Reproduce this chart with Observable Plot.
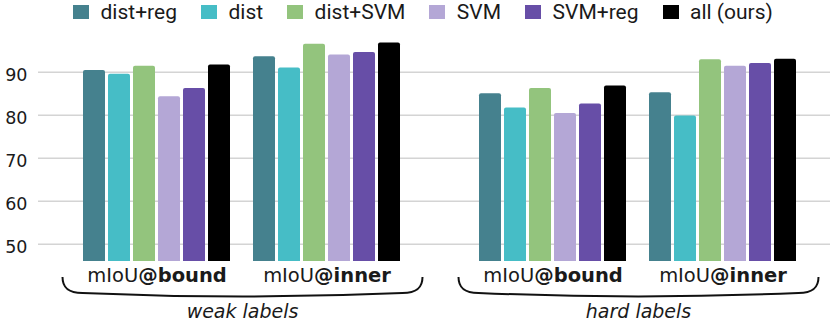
<!DOCTYPE html>
<html>
<head>
<meta charset="utf-8">
<script src="https://cdn.jsdelivr.net/npm/d3@7"></script>
<script src="https://cdn.jsdelivr.net/npm/@observablehq/plot@0.6"></script>
<style>
  html, body { margin: 0; padding: 0; background: #fff; }
  #legend { height: 24px; display: flex; align-items: center; padding-left: 73px;
    font-family: Roboto, sans-serif; font-size: 21px; color: #1a1a1a; white-space: nowrap; }
  #legend .item { display: flex; align-items: center; margin-right: 24px; }
  #legend .sw { width: 16px; height: 14px; margin-right: 11.5px; display: inline-block; }
  #chart svg { display: block; }
</style>
</head>
<body>
<div id="legend"></div>
<div id="chart"></div>
<script>
// ---- data ----
const series = ["dist+reg", "dist", "dist+SVM", "SVM", "SVM+reg", "all (ours)"];
const colors = ["#45818e", "#46bdc6", "#93c47d", "#b4a7d6", "#674ea7", "#000000"];
const labelSets = ["weak labels", "hard labels"];
const metrics = ["mIoU@bound", "mIoU@inner"];
const weakBound = [90.4, 89.5, 91.4, 84.3, 86.2, 91.7];
const weakInner = [93.6, 91.0, 96.5, 94.0, 94.6, 96.8];
const hardBound = [85.0, 81.7, 86.2, 80.4, 82.6, 86.8];
const hardInner = [85.2, 79.8, 92.9, 91.4, 92.0, 93.0];
const yTicks = [50, 60, 70, 80, 90];
const yDomain = [46, 97];

const table = {
  "weak labels": {"mIoU@bound": weakBound, "mIoU@inner": weakInner},
  "hard labels": {"mIoU@bound": hardBound, "mIoU@inner": hardInner}
};
const rows = [];
for (const set of labelSets)
  for (const metric of metrics)
    series.forEach((s, i) => rows.push({set, metric, series: s, value: table[set][metric][i]}));

// ---- legend ----
const legend = document.getElementById("legend");
series.forEach((s, i) => {
  const item = document.createElement("div");
  item.className = "item";
  const sw = document.createElement("span");
  sw.className = "sw";
  sw.style.background = colors[i];
  item.appendChild(sw);
  item.appendChild(document.createTextNode(s));
  legend.appendChild(item);
});

// ---- chart ----
const barStep = 25, barW = 22, n = series.length;
const plot = Plot.plot({
  width: 830,
  height: 300,
  marginTop: 17.6,
  marginBottom: 63.1,
  marginLeft: 38,
  marginRight: 0,
  style: {fontFamily: "'DejaVu Sans', sans-serif", fontSize: "19px", color: "#1a1a1a", background: "white"},
  fx: {domain: labelSets, paddingInner: 0, paddingOuter: 0, label: null},
  x: {domain: metrics, paddingInner: 0.135, paddingOuter: 0.232, align: 0.576, label: null},
  y: {domain: yDomain, label: null},
  marks: [
    Plot.ruleY(yTicks, {stroke: "#d4d4d4", strokeWidth: 1.5}),
    ...series.map((s, i) => Plot.barY(rows.filter(d => d.series === s), {
      fx: "set", x: "metric", y: "value", fill: colors[i],
      insetLeft: i * barStep, insetRight: (n - 1 - i) * barStep,
      rx: 2, clip: true
    })),
    Plot.axisY({ticks: yTicks, tickSize: 0, tickPadding: 11, fontSize: 17.5, dy: 3, label: null}),
    Plot.axisX({tickSize: 0, tickPadding: 7, fontSize: 19.5, label: null}),
    Plot.axisFx({anchor: "bottom", tickSize: 0, tickPadding: 43.5, fontStyle: "italic", fontSize: 19, dx: 6, label: null})
  ]
});
document.getElementById("chart").appendChild(plot);

// bold "@..." part of the metric labels
const NS = "http://www.w3.org/2000/svg";
plot.querySelectorAll('g[aria-label="x-axis tick label"] text').forEach(t => {
  const str = t.textContent;
  const k = str.indexOf("@");
  if (k < 0) return;
  t.textContent = "";
  t.appendChild(document.createTextNode(str.slice(0, k)));
  const ts = document.createElementNS(NS, "tspan");
  ts.setAttribute("font-weight", "bold");
  ts.textContent = str.slice(k);
  t.appendChild(ts);
});
plot.querySelectorAll('g[aria-label="fx-axis tick label"] text').forEach(t => t.setAttribute("font-style", "italic"));

// braces under each label set, positioned from the scales
const fx = plot.scale("fx"), x = plot.scale("x"), y = plot.scale("y");
const fb = y.apply(yDomain[0]);
const bw = x.bandwidth;
const g = document.createElementNS(NS, "g");
for (const set of labelSets) {
  const off = fx.apply(set) - fx.range[0];
  const L = off + x.apply(metrics[0]) - 20.5;
  const R = off + x.apply(metrics[1]) + bw + 22.5;
  const C = (L + R) / 2;
  const top = fb + 16, line = fb + 32;
  const p = document.createElementNS(NS, "path");
  p.setAttribute("d",
    `M${L},${top} C${L},${line - 6} ${L + 5},${line} ${L + 20},${line} ` +
    `Q${C},${line + 7} ${R - 20},${line} ` +
    `C${R - 5},${line} ${R},${line - 6} ${R},${top}`);
  p.setAttribute("fill", "none");
  p.setAttribute("stroke", "#111");
  p.setAttribute("stroke-width", 2);
  g.appendChild(p);
}
plot.appendChild(g);
</script>
</body>
</html>
